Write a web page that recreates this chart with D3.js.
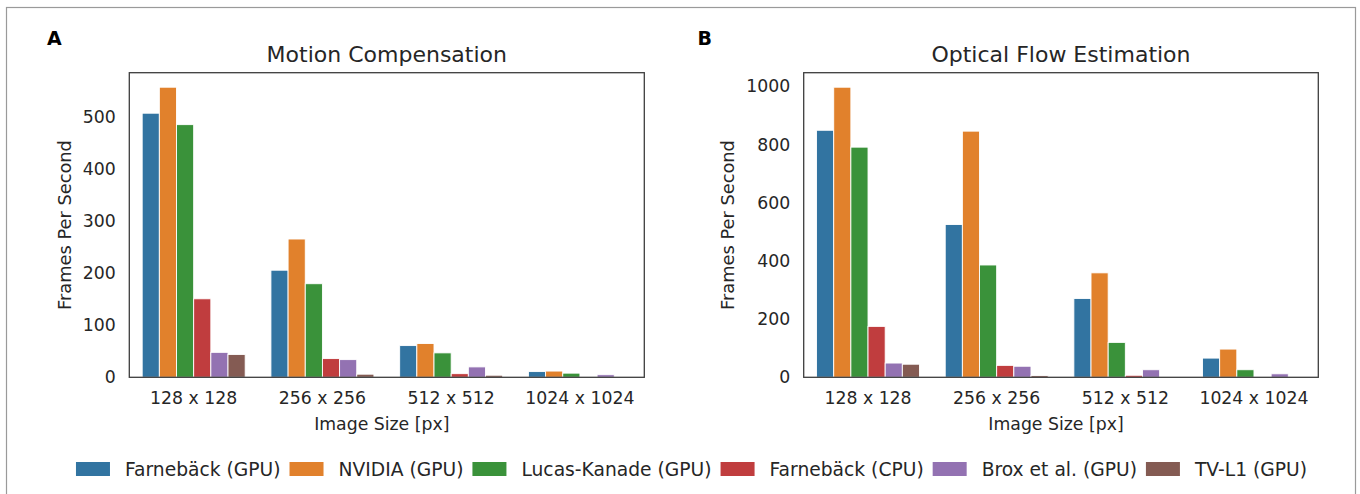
<!DOCTYPE html>
<html>
<head>
<meta charset="utf-8">
<script src="https://cdn.jsdelivr.net/npm/d3@7"></script>
<style>
  body { margin: 0; background: #fff; }
  text { font-family: "DejaVu Sans", sans-serif; fill: #262626; }
</style>
</head>
<body>
<script>
// data
const sizes = ["128 x 128", "256 x 256", "512 x 512", "1024 x 1024"];
const methods = ["Farnebäck (GPU)", "NVIDIA (GPU)", "Lucas-Kanade (GPU)", "Farnebäck (CPU)", "Brox et al. (GPU)", "TV-L1 (GPU)"];
const colors = ["#3274a1", "#e1812c", "#3a923a", "#c03d3e", "#9372b2", "#845b53"];

// frames per second, one array per method (same order as sizes)
const motionFarnebackGpu = [508, 206, 61, 11];
const motionNvidia = [558, 266, 65, 12];
const motionLucasKanade = [486, 180, 47, 8];
const motionFarnebackCpu = [151, 36, 7, 0];
const motionBrox = [48, 34, 20, 5];
const motionTvl1 = [44, 6, 4, 0];

const flowFarnebackGpu = [849, 525, 271, 66];
const flowNvidia = [997, 846, 359, 97];
const flowLucasKanade = [791, 386, 120, 26];
const flowFarnebackCpu = [175, 41, 7, 0];
const flowBrox = [49, 38, 26, 12];
const flowTvl1 = [45, 6, 0, 0];

const motionTicks = [0, 100, 200, 300, 400, 500];
const flowTicks = [0, 200, 400, 600, 800, 1000];

const W = 1360, H = 494;
const svg = d3.select("body").append("svg").attr("width", W).attr("height", H);

// outer frame
svg.append("rect")
  .attr("x", 6.5).attr("y", 7.5).attr("width", 1349).attr("height", 520)
  .attr("fill", "none").attr("stroke", "#9a9a9a").attr("stroke-width", 1.2);

const plotTop = 72.7, plotBottom = 377.3;

function panel(opts) {
  const series = opts.series;
  const maxV = d3.max(series, s => d3.max(s));
  const y = d3.scaleLinear().domain([0, maxV * 1.05]).range([plotBottom, plotTop]);
  const x = d3.scaleBand().domain(sizes).range([opts.left, opts.right])
    .paddingInner(0.2).paddingOuter(0.1);
  const xm = d3.scaleBand().domain(d3.range(methods.length)).range([0, x.bandwidth()]);

  const g = svg.append("g");

  const rows = [];
  series.forEach((vals, m) => vals.forEach((v, i) => rows.push({ m, size: sizes[i], v })));

  g.selectAll("rect.bar")
    .data(rows)
    .enter().append("rect")
    .attr("class", "bar")
    .attr("x", d => x(d.size) + xm(d.m))
    .attr("width", xm.bandwidth())
    .attr("y", d => y(d.v))
    .attr("height", d => plotBottom - y(d.v))
    .attr("fill", d => colors[d.m])
    .attr("stroke", "#fff")
    .attr("stroke-width", 0.9);

  // axes
  const yAxis = g.append("g")
    .attr("transform", `translate(${opts.left},0)`)
    .call(d3.axisLeft(y).tickValues(opts.ticks).tickFormat(d3.format("d")).tickSize(0).tickPadding(13.5));
  yAxis.select(".domain").remove();
  yAxis.selectAll("text").style("font-size", "17.3px").attr("fill", "#262626")
    .style("font-family", "DejaVu Sans");

  const xAxis = g.append("g")
    .attr("transform", `translate(0,${plotBottom})`)
    .call(d3.axisBottom(x).tickSize(0).tickPadding(14));
  xAxis.select(".domain").remove();
  xAxis.selectAll("text").style("font-size", "17.3px").attr("fill", "#262626")
    .style("font-family", "DejaVu Sans");

  // frame (all four spines)
  g.append("rect")
    .attr("x", opts.left).attr("y", plotTop)
    .attr("width", opts.right - opts.left).attr("height", plotBottom - plotTop)
    .attr("fill", "none").attr("stroke", "#3d3d3d").attr("stroke-width", 1.3);

  const cx = (opts.left + opts.right) / 2;
  g.append("text").attr("x", cx).attr("y", 62)
    .attr("text-anchor", "middle").style("font-size", "22px").text(opts.title);

  g.append("text").attr("x", cx - 5).attr("y", 430)
    .attr("text-anchor", "middle").style("font-size", "17.3px").text("Image Size [px]");

  g.append("text")
    .attr("transform", `translate(${opts.labelX},${(plotTop + plotBottom) / 2}) rotate(-90)`)
    .attr("text-anchor", "middle").style("font-size", "17.8px").text("Frames Per Second");

  g.append("text").attr("x", opts.letterX).attr("y", 45)
    .style("font-size", "19px").style("font-weight", "bold").style("fill", "#000")
    .text(opts.letter);
}

panel({
  left: 129.3, right: 644.3, title: "Motion Compensation", letter: "A", letterX: 47, labelX: 70.5,
  ticks: motionTicks,
  series: [motionFarnebackGpu, motionNvidia, motionLucasKanade, motionFarnebackCpu, motionBrox, motionTvl1]
});
panel({
  left: 803.7, right: 1318.3, title: "Optical Flow Estimation", letter: "B", letterX: 697.5, labelX: 733.5,
  ticks: flowTicks,
  series: [flowFarnebackGpu, flowNvidia, flowLucasKanade, flowFarnebackCpu, flowBrox, flowTvl1]
});

// legend, one row centred under the figure
const legend = svg.append("g");
const patchW = 34, patchH = 14, gapText = 15, gapItem = 9, ly = 469;
let cursor = 0;
methods.forEach((name, i) => {
  const it = legend.append("g");
  it.append("rect").attr("x", 0).attr("y", ly - patchH / 2)
    .attr("width", patchW).attr("height", patchH).attr("fill", colors[i]);
  const t = it.append("text").attr("x", patchW + gapText).attr("y", ly)
    .attr("dy", "0.35em").style("font-size", "18.7px").text(name);
  const w = patchW + gapText + t.node().getComputedTextLength();
  it.attr("transform", `translate(${cursor},0)`);
  cursor += w + gapItem;
});
const totalW = cursor - gapItem;
legend.attr("transform", `translate(${(78 + 1305) / 2 - totalW / 2},0)`);
</script>
</body>
</html>
